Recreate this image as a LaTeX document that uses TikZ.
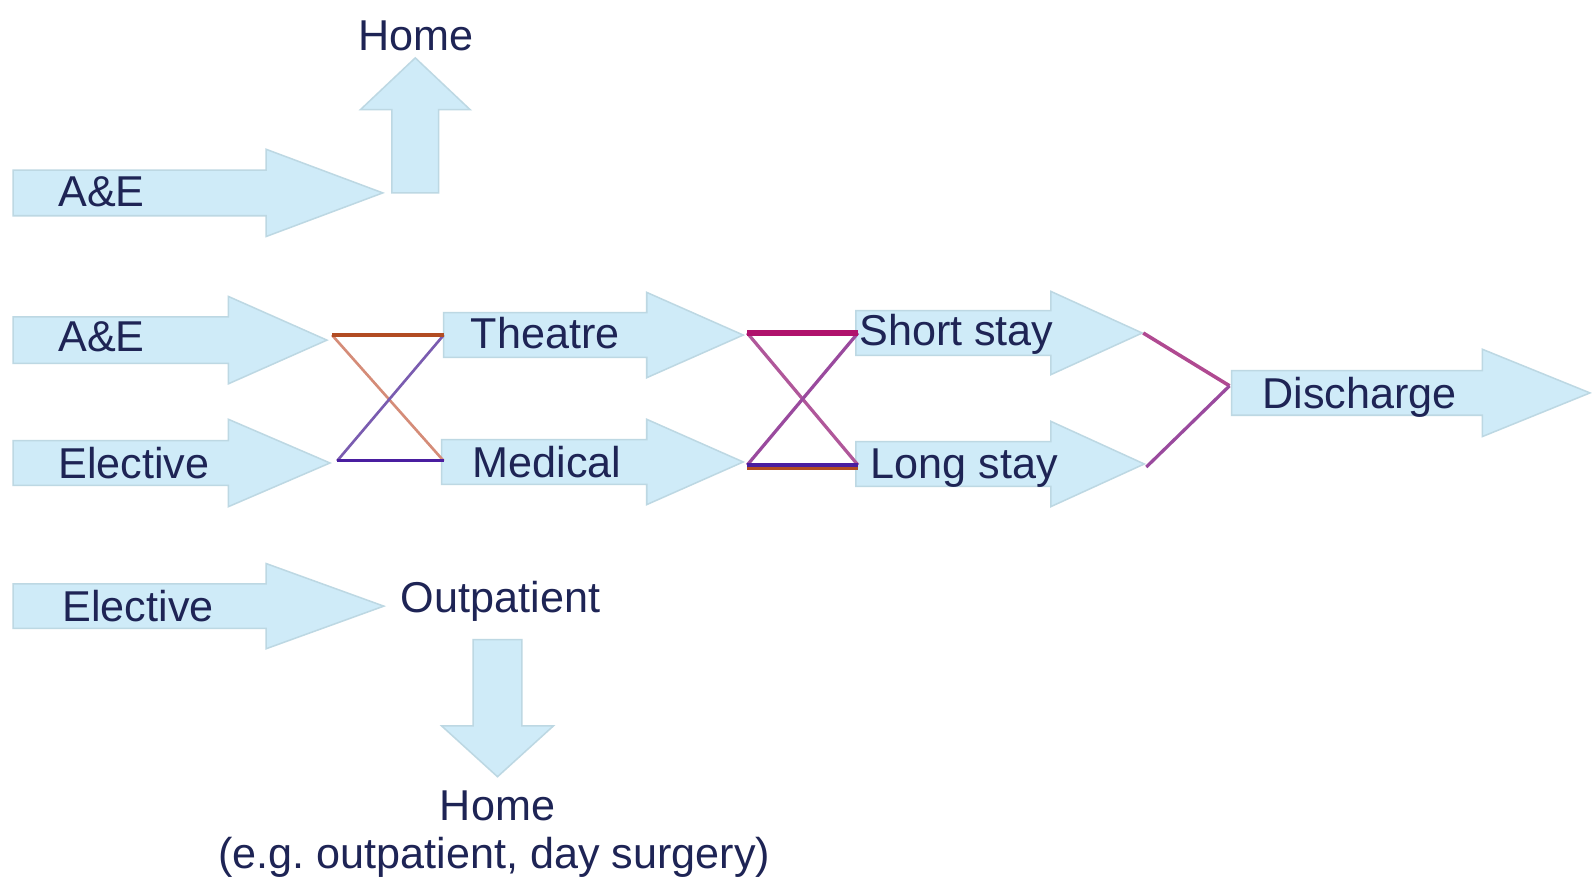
\documentclass[tikz,border=0pt]{standalone}
\usepackage{fontspec}
\setmainfont{Liberation Sans}
\definecolor{arrowfill}{HTML}{CFEBF8}
\definecolor{arrowedge}{HTML}{BDD8E3}
\definecolor{ink}{HTML}{1E2455}
\definecolor{lnorange}{HTML}{B24C22}
\definecolor{lnsalmon}{HTML}{D58C78}
\definecolor{lnlilac}{HTML}{7A5CB0}
\definecolor{lnpurple}{HTML}{4A1EA0}
\definecolor{lnmagenta}{HTML}{B0126C}
\definecolor{lnmauve}{HTML}{B0579A}
\definecolor{lnplum}{HTML}{9A4A9E}
% horizontal block arrow: x0, xhead, xtip, ycentre, half shaft, half head
\newcommand\rblock[6]{%
  \draw[blockarrow] (#1,#4-#5) -- (#2,#4-#5) -- (#2,#4-#6) -- (#3,#4)
    -- (#2,#4+#6) -- (#2,#4+#5) -- (#1,#4+#5) -- cycle;}
% vertical block arrow: xcentre, half shaft, half head, ystart, yhead, ytip
\newcommand\vblock[6]{%
  \draw[blockarrow] (#1-#2,#4) -- (#1-#2,#5) -- (#1-#3,#5) -- (#1,#6)
    -- (#1+#3,#5) -- (#1+#2,#5) -- (#1+#2,#4) -- cycle;}
\begin{document}
\frenchspacing
\begin{tikzpicture}[x=1pt,y=-1pt,
  lbl/.style={anchor=base,inner sep=0pt,text=ink,font=\fontsize{42.5}{50}\selectfont},
  blockarrow/.style={fill=arrowfill,draw=arrowedge,line width=1.5pt,line join=miter},
  link/.style={line width=#1,line cap=butt}]
\useasboundingbox (0,0) rectangle (1568,866);
\fill[white] (0,0) rectangle (1568,866);

% ---- block arrows
\rblock{13}{262}{377}{190}{22.5}{43}
\vblock{409}{23}{54}{190}{108}{57}
\rblock{13}{225}{322}{335}{23}{43}
\rblock{13}{225}{325}{456}{22}{43}
\rblock{437}{637}{732}{330}{22}{42}
\rblock{435}{637}{732}{455}{22}{42}
\rblock{843}{1035}{1125}{328}{22}{41}
\rblock{843}{1035}{1127}{457}{22}{42}
\rblock{1213}{1460}{1566}{387}{22}{43}
\rblock{13}{262}{378}{597}{22}{42}
\vblock{490}{24}{55}{630}{715}{765}

% ---- labels
\node[lbl] (home1) at (410,50) {Home};
\node[lbl] (ae1) at (100,203) {A\&E};
\node[lbl] (ae2) at (100,346) {A\&E};
\node[lbl] (el1) at (132,471) {Elective};
\node[lbl] (theatre) at (537,343) {Theatre};
\node[lbl] (medical) at (539,470) {Medical};
\node[lbl] (short) at (942,340) {Short stay};
\node[lbl] (long) at (950,471) {Long stay};
\node[lbl] (discharge) at (1339,402) {Discharge};
\node[lbl] (el2) at (136,612) {Elective};
\node[lbl] (outp) at (493,603) {Outpatient};
\node[lbl] (home2) at (490,808) {Home};
\node[lbl] (eg) at (487,855) {(e.g. outpatient, day surgery)};

% ---- connector ends
\coordinate (aeTip) at (327,330);
\coordinate (elTip) at (332,454);
\coordinate (thIn) at (437,330);
\coordinate (meIn) at (437,454);
\coordinate (thTip) at (736,328);
\coordinate (meTip) at (736,458);
\coordinate (shIn) at (845,328);
\coordinate (loIn) at (845,458);
\coordinate (shTip) at (1126,328);
\coordinate (loTip) at (1129,460);
\coordinate (diIn) at (1211,380);

% ---- connectors
\draw[link=2.6pt,lnsalmon] (aeTip) -- (meIn);
\draw[link=2.6pt,lnlilac] (elTip) -- (thIn);
\draw[link=3.5pt,lnorange] (aeTip) -- (thIn);
\draw[link=3pt,lnpurple] (elTip) -- (meIn);

\draw[link=3.2pt,lnmauve] (thTip) -- (loIn);
\draw[link=3.2pt,lnplum] (meTip) -- (shIn);
\draw[link=5pt,lnmagenta] (thTip) -- (shIn);
\draw[link=3pt,lnorange,transform canvas={yshift=-3pt}] (meTip) -- (loIn);
\draw[link=3pt,lnpurple] (meTip) -- (loIn);

\draw[link=3.5pt,lnmauve!80!lnmagenta] (shTip) -- (diIn);
\draw[link=3.2pt,lnplum] (loTip) -- (diIn);
\end{tikzpicture}
\end{document}
